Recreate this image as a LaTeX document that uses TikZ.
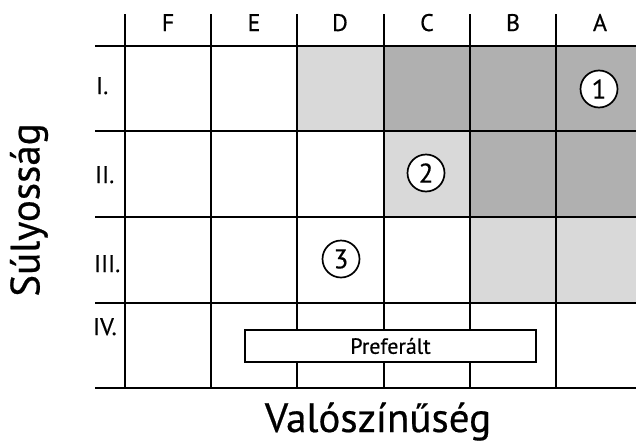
\documentclass[tikz,border=0pt]{standalone}
\usepackage{fontspec}
\setmainfont[FakeBold=0.5]{PT Sans}
\begin{document}
\begin{tikzpicture}[x=1pt,y=-1pt,
  gridline/.style={line width=2.3pt, line cap=rect},
  darkcell/.style={fill=black!31},
  lightcell/.style={fill=black!15},
  collabel/.style={font=\fontsize{24}{24}\selectfont, anchor=base, inner sep=0pt},
  rowlabel/.style={font=\fontsize{24}{24}\selectfont, anchor=base west, inner sep=0pt},
  riskmark/.style={circle, draw, fill=white, line width=1.7pt, minimum size=37pt,
    inner sep=0pt, font=\fontsize{27}{27}\selectfont},
  axistitle/.style={font=\fontsize{41}{41}\selectfont, inner sep=0pt},
  prefbox/.style={draw, fill=white, line width=2pt, minimum width=291pt,
    minimum height=32pt, inner sep=0pt, font=\fontsize{22}{22}\selectfont}
]
\useasboundingbox (0,0) rectangle (636,442);

% shaded risk cells
\fill[lightcell] (297,46) rectangle (384,131);
\fill[darkcell]  (384,46) rectangle (636,131);
\fill[lightcell] (384,131) rectangle (470,217);
\fill[darkcell]  (470,131) rectangle (636,217);
\fill[lightcell] (470,217) rectangle (636,303);

% grid
\foreach \y in {46,131,217,303,388}
  \draw[gridline] (96,\y) -- (636,\y);
\foreach \x in {125,211,297,384,470,556}
  \draw[gridline] (\x,15) -- (\x,388);

% column headers (likelihood classes)
\node[collabel] (colF) at (168,31) {F};
\node[collabel] (colE) at (254,31) {E};
\node[collabel] (colD) at (340,31) {D};
\node[collabel] (colC) at (427,31) {C};
\node[collabel] (colB) at (513,31) {B};
\node[collabel] (colA) at (600,31) {A};

% row headers (severity classes)
\node[rowlabel] (rowI)   at (96,94)  {I.};
\node[rowlabel] (rowII)  at (95,183) {II.};
\node[rowlabel] (rowIII) at (94,272) {III.};
\node[rowlabel] (rowIV)  at (93,335) {IV.};

% numbered markers
\node[riskmark] (m1) at (599,89)  {1};
\node[riskmark] (m2) at (426,173) {2};
\node[riskmark] (m3) at (341,259) {3};

% preferred band
\node[prefbox] (pref) at (390.5,346) {Preferált};

% axis titles
\node[axistitle, anchor=base] (xtitle) at (378,432) {Valószínűség};
\node[axistitle, rotate=90] (ytitle) at (29,210) {Súlyosság};
\end{tikzpicture}
\end{document}
